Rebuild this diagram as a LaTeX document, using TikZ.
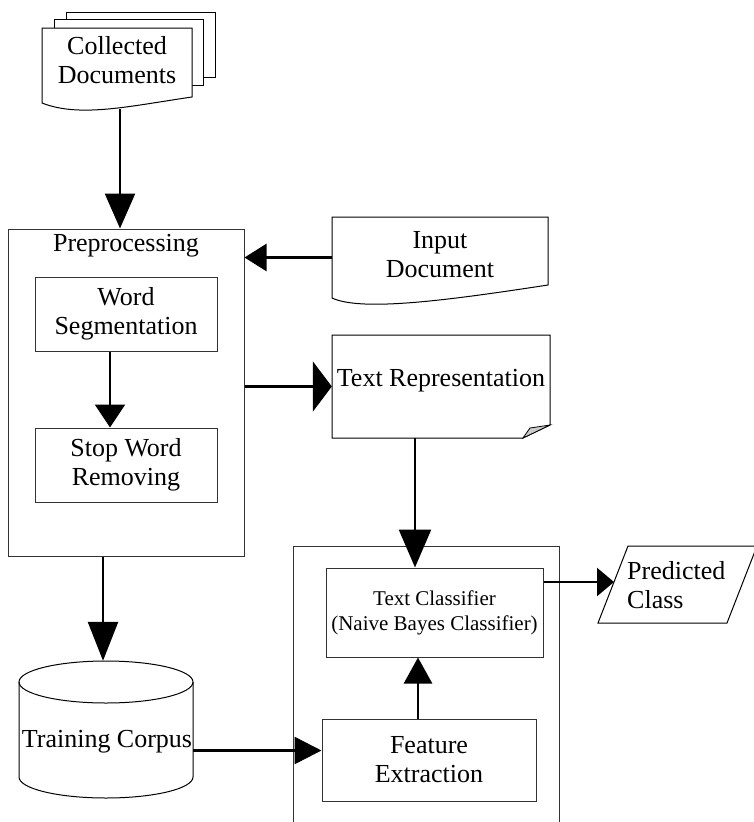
\documentclass[tikz,border=0pt]{standalone}
\usepackage{fontspec}
\setmainfont{Liberation Serif}
\usetikzlibrary{arrows.meta,calc}
\begin{document}
\begin{tikzpicture}[x=1pt,y=-1pt,
  box/.style={draw=black!80, line width=1pt, inner sep=0pt},
  ghost/.style={inner sep=0pt},
  txt/.style={font=\fontsize{26}{29}\selectfont, align=center, inner sep=0pt},
  small/.style={font=\fontsize{21}{25}\selectfont, align=center, inner sep=0pt},
  doc/.style={draw=black, line width=1pt, fill=white},
  conn/.style={line width=2.6pt},
]
\clip (0,0) rectangle (754,822);
\fill[white] (0,0) rectangle (754,822);

% Collected documents (stack)
\draw[doc] (66,12) rectangle (215,77);
\draw[doc] (54,19) rectangle (203,85);
\draw[doc] (42,28) -- (192,28) -- (192,97) .. controls (130,106) and (80,118) .. (42,103) -- cycle;
\node[ghost, minimum width=150pt, minimum height=75pt] (cd) at (117,65.5) {};
\node[txt] at (117,60) {Collected\\Documents};

% Preprocessing
\node[box, minimum width=236pt, minimum height=327pt] (pre) at (126,392.5) {};
\node[txt] (pret) at (126,246) {Preprocessing};
\node[box, minimum width=182pt, minimum height=74pt, txt] (ws) at (126,314) {Word\\Segmentation};
\node[box, minimum width=182pt, minimum height=74pt, txt] (sw) at (126,465) {Stop Word\\Removing};

% Input document
\draw[doc] (332,217) -- (548,217) -- (548,285) .. controls (450,300) and (362,312) .. (332,298) -- cycle;
\node[ghost, minimum width=216pt, minimum height=81pt] (indoc) at (440,257.5) {};
\node[txt] at (440,255) {Input\\Document};

% Text representation
\draw[doc] (332,335) -- (550,335) -- (550,425) -- (523,438) -- (332,438) -- cycle;
\draw[fill=black!20, line width=0.8pt] (550,425) -- (530,428) -- (523,438) -- cycle;
\node[ghost, minimum width=218pt, minimum height=103pt] (trep) at (441,386.5) {};
\node[txt] at (441,381) {Text Representation};

% Classifier group
\draw[draw=black!80, line width=1pt] (293,860) -- (293,546) -- (559,546) -- (559,860);
\node[box, minimum width=217pt, minimum height=89pt, small] (tcl) at (434.5,612.5) {Text Classifier\\(Naive Bayes Classifier)};
\node[box, minimum width=214pt, minimum height=82pt, txt] (fe) at (429,760) {Feature\\Extraction};

% Predicted class
\draw[doc] (628,546) -- (757,546) -- (727,623) -- (598,623) -- cycle;
\coordinate (pcin) at (614,582);
\node[txt, align=left, anchor=west] at (627,585) {Predicted\\Class};

% Training corpus (cylinder)
\draw[doc] (19,682) -- (19,777) arc[start angle=180, end angle=360, x radius=87, y radius=-21] -- (193,682);
\draw[line width=1pt] (106,682) ellipse[x radius=87, y radius=21];
\node[ghost, minimum width=174pt, minimum height=137pt] (corpus) at (106,729.5) {};
\node[txt] at (107,742) {Training Corpus};

% Connectors
\draw[conn, -{Triangle[length=35pt,width=30pt]}] ([xshift=3pt,yshift=-6pt]cd.south) -- ([xshift=-6pt]pre.north);
\draw[conn, -{Triangle[length=22pt,width=27pt]}] (indoc.west) -- (pre.east |- indoc.west);
\draw[conn, -{Triangle[length=19pt,width=50pt]}] (pre.east |- trep.west) -- (trep.west);
\draw[conn, -{Triangle[length=23pt,width=30pt]}] ([xshift=-16pt]ws.south) -- ([xshift=-16pt]sw.north);
\draw[conn, -{Triangle[length=38pt,width=32pt]}] ([xshift=-26pt]trep.south) -- ([xshift=-26pt]trep.south |- tcl.north);
\draw[conn, -{Triangle[length=39pt,width=30pt]}] ([xshift=-23pt]pre.south) -- ([xshift=-23pt]pre.south |- corpus.north);
\draw[conn, -{Triangle[length=26pt,width=28pt]}] ([xshift=-11pt]fe.north) -- ([xshift=-11pt]fe.north |- tcl.south);
\draw[conn, -{Triangle[length=27pt,width=27pt]}] ([yshift=-21pt]corpus.east) -- ([yshift=-21pt]corpus.east -| fe.west);
\draw[conn, -{Triangle[length=17pt,width=28pt]}] (tcl.east |- pcin) -- (pcin);
\end{tikzpicture}
\end{document}
